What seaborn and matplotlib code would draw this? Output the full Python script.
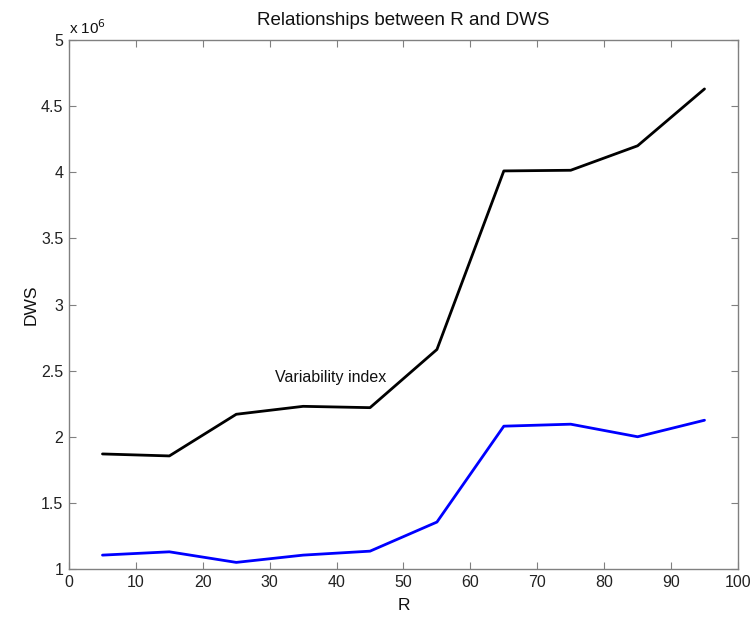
import matplotlib
matplotlib.use("Agg")
import matplotlib.pyplot as plt
import seaborn as sns
import pandas as pd
from matplotlib.ticker import FuncFormatter, MultipleLocator

R = [5, 15, 25, 35, 45, 55, 65, 75, 85, 95]
dws_black = [1.87e6, 1.855e6, 2.17e6, 2.23e6, 2.22e6, 2.66e6, 4.01e6, 4.015e6, 4.2e6, 4.63e6]
dws_blue = [1.105e6, 1.13e6, 1.05e6, 1.105e6, 1.135e6, 1.355e6, 2.08e6, 2.095e6, 2.0e6, 2.125e6]

sns.set_theme(style="white")
plt.rcParams['font.family'] = ['Liberation Sans', 'DejaVu Sans']
plt.rcParams['text.color'] = '#111111'
plt.rcParams['axes.labelcolor'] = '#111111'
plt.rcParams['xtick.labelcolor'] = '#222222'
plt.rcParams['ytick.labelcolor'] = '#222222'

df = pd.DataFrame({"R": R + R,
                   "DWS": dws_black + dws_blue,
                   "series": ["black"] * len(R) + ["blue"] * len(R)})

fig = plt.figure(figsize=(7.52, 6.22), dpi=100)
ax = fig.add_axes([0.0918, 0.0852, 0.8895, 0.8505])
sns.lineplot(data=df, x="R", y="DWS", hue="series",
             palette={"black": "#000000", "blue": "#0000ff"},
             linewidth=2.0, legend=False, ax=ax)

ax.set_xlim(0, 100)
ax.set_ylim(1e6, 5e6)
ax.xaxis.set_major_locator(MultipleLocator(10))
ax.yaxis.set_major_locator(MultipleLocator(0.5e6))
ax.yaxis.set_major_formatter(FuncFormatter(lambda v, p: f"{v/1e6:g}"))
ax.tick_params(direction="in", length=5, width=0.8, color="#808080",
               top=True, right=True, labelsize=11.5, pad=4)
ax.tick_params(axis="both", which="both", bottom=True, left=True)
for s in ax.spines.values():
    s.set_color("#808080")
    s.set_linewidth(1.0)

ax.set_xlabel("R", fontsize=12.5, labelpad=6)
ax.set_ylabel("DWS", fontsize=12.5, labelpad=2)
ax.set_title("Relationships between R and DWS", fontsize=13.5, pad=11)
ax.text(0.0, 1.005, r"x 10$^6$", transform=ax.transAxes, fontsize=11,
        ha="left", va="bottom")
ax.text(30.8, 2.45e6, "Variability index", fontsize=11.5, ha="left", va="center")

fig.savefig("out.png", dpi=100)
